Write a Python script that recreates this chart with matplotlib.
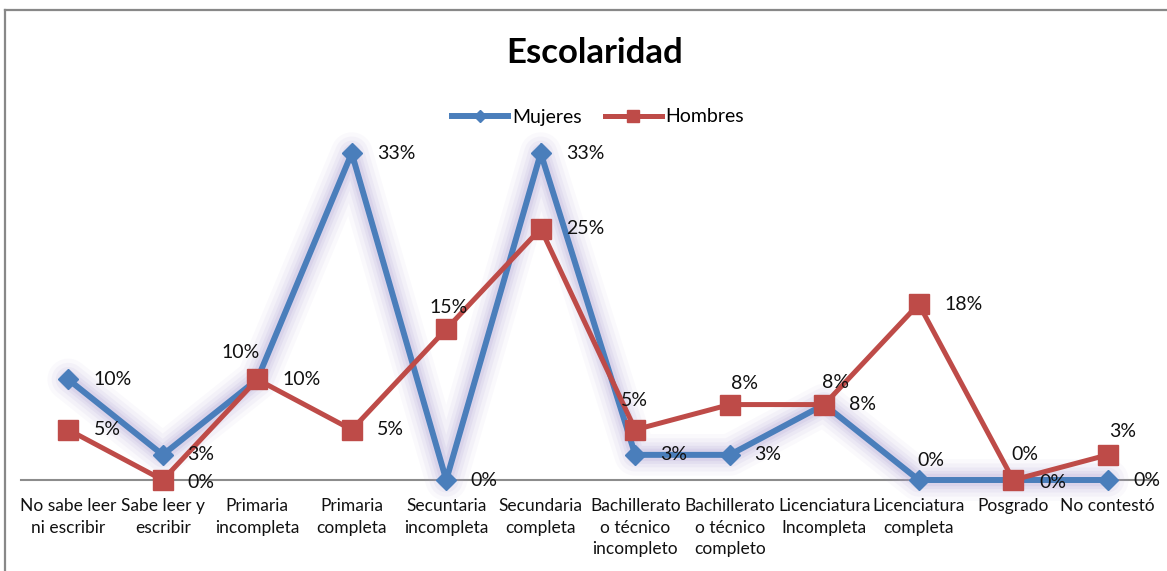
import matplotlib
matplotlib.use("Agg")
import matplotlib.pyplot as plt
from matplotlib.lines import Line2D
import numpy as np

plt.rcParams['font.family'] = ['Lato', 'DejaVu Sans']

categories = ["No sabe leer\nni escribir", "Sabe leer y\nescribir", "Primaria\nincompleta",
              "Primaria\ncompleta", "Secuntaria\nincompleta", "Secundaria\ncompleta",
              "Bachillerato\no técnico\nincompleto", "Bachillerato\no técnico\ncompleto",
              "Licenciatura\nIncompleta", "Licenciatura\ncompleta", "Posgrado", "No contestó"]
mujeres = [10.0, 2.5, 10.0, 32.5, 0.0, 32.5, 2.5, 2.5, 7.5, 0.0, 0.0, 0.0]
hombres = [5.0, 0.0, 10.0, 5.0, 15.0, 25.0, 5.0, 7.5, 7.5, 17.5, 0.0, 2.5]
series_names = ["Mujeres", "Hombres"]
title = "Escolaridad"

# label offsets in pixels (style)
off_m = [(44, 0), (38, 0), (-17, 27), (45, 0), (38, 0), (45, 0),
         (38, 0), (38, 0), (38, 0), (12, 19), (40, -2), (39, 0)]
off_h = [(39, 0), (38, -2), (44, 0), (39, 0), (2, 22), (45, 0),
         (-1, 29), (15, 21), (11, 22), (45, 0), (12, 25), (15, 23)]

W, H = 1167, 571
fig = plt.figure(figsize=(W / 100, H / 100), dpi=100)
fig.patch.set_facecolor("white")

ax = fig.add_axes([21 / W, 91 / H, (1155 - 21) / W, (480 - 128) / H])
ax.set_xlim(-0.5, len(categories) - 0.5)
ax.set_ylim(0, 35)
x = np.arange(len(categories))

blue = "#4a7ebb"
red = "#be4b48"
glow = "#ad9fd2"

# glow for blue series
for lw, a in [(30, 0.06), (24, 0.08), (18, 0.10), (13, 0.13), (9, 0.16)]:
    ax.plot(x, mujeres, color=glow, lw=lw, alpha=a, solid_joinstyle="round",
            solid_capstyle="round", clip_on=False, zorder=1)

ax.plot(x, mujeres, color=blue, lw=4.3, marker="D", ms=10.5, mfc=blue, mec=blue,
        clip_on=False, zorder=3, solid_joinstyle="miter")
ax.plot(x, hombres, color=red, lw=3.6, marker="s", ms=14, mfc=red, mec=red,
        clip_on=False, zorder=4, solid_joinstyle="miter")

def fmt(v):
    return f"{int(v + 0.5)}%"

for xi, v, o in zip(x, mujeres, off_m):
    ax.annotate(fmt(v), (xi, v), xytext=o, textcoords="offset pixels",
                ha="center", va="center", fontsize=14, color="#111111",
                annotation_clip=False, zorder=6)
for xi, v, o in zip(x, hombres, off_h):
    ax.annotate(fmt(v), (xi, v), xytext=o, textcoords="offset pixels",
                ha="center", va="center", fontsize=14, color="#111111",
                annotation_clip=False, zorder=6)

ax.set_xticks(x)
ax.set_xticklabels(categories, fontsize=12.5, color="#111111", linespacing=1.42)
ax.tick_params(axis="x", length=0, pad=13)
ax.set_yticks([])
for s in ["top", "right", "left"]:
    ax.spines[s].set_visible(False)
ax.spines["bottom"].set_color("#8c8c8c")
ax.spines["bottom"].set_linewidth(1.5)
ax.spines["bottom"].set_zorder(0)
ax.patch.set_alpha(0)

fig.text(595 / W, 1 - 53 / H, title, ha="center", va="center",
         fontsize=25, fontweight="bold", color="black")

handles = [Line2D([], [], color=blue, lw=4.3, marker="D", ms=6),
           Line2D([], [], color=red, lw=3.6, marker="s", ms=8)]
fig.legend(handles, series_names, loc="center", bbox_to_anchor=(598 / W, 1 - 117 / H),
           ncol=2, frameon=False, fontsize=14, handlelength=2.9, handletextpad=0.2,
           columnspacing=1.2)

# outer border (top and left)
fig.add_artist(Line2D([5 / W, 1.0], [1 - 10 / H, 1 - 10 / H], transform=fig.transFigure,
                      color="#888888", lw=1.6))
fig.add_artist(Line2D([5 / W, 5 / W], [1 - 10 / H, 0.0], transform=fig.transFigure,
                      color="#888888", lw=1.6))

fig.savefig("out.png", dpi=100)
